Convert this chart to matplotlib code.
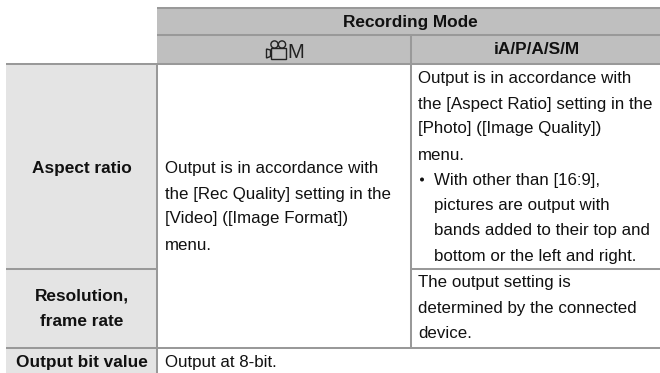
import matplotlib
matplotlib.use("Agg")
import matplotlib.pyplot as plt
from matplotlib.patches import Rectangle, Circle, Polygon

header_title = "Recording Mode"
mode_photo = "iA/P/A/S/M"
mode_video_letter = "M"
row_labels = ["Aspect ratio", "Resolution,\nframe rate", "Output bit value"]
video_lines = ["Output is in accordance with", "the [Rec Quality] setting in the",
               "[Video] ([Image Format])", "menu."]
photo_lines = ["Output is in accordance with", "the [Aspect Ratio] setting in the",
               "[Photo] ([Image Quality])", "menu."]
bullet_lines = ["With other than [16:9],", "pictures are output with",
                "bands added to their top and", "bottom or the left and right."]
device_lines = ["The output setting is", "determined by the connected", "device."]
bit_text = "Output at 8-bit."

W, H = 660, 373
plt.rcParams["font.family"] = ["Liberation Sans", "DejaVu Sans"]
fig = plt.figure(figsize=(W / 100, H / 100), dpi=100)
ax = fig.add_axes([0, 0, 1, 1])
ax.set_xlim(0, W)
ax.set_ylim(H, 0)
ax.axis("off")

HDR, SIDE, LINE, INK = "#bfbfbf", "#e4e4e4", "#999999", "#111111"
FS = 12.2
FSB = 12.4
LW = 1.45
ax.add_patch(Rectangle((157, 8), W - 157, 56, fc=HDR, ec="none"))
ax.add_patch(Rectangle((6, 64), 151, H - 64, fc=SIDE, ec="none"))

for (x0, x1, y) in [(157, W, 8), (157, W, 35), (6, W, 64), (6, 157, 269), (410.5, W, 269), (6, W, 347.5)]:
    ax.plot([x0, x1], [y, y], color=LINE, lw=LW, solid_capstyle="butt")
for (x, y0, y1) in [(157, 64, H), (410.5, 35, 347.5)]:
    ax.plot([x, x], [y0, y1], color=LINE, lw=LW, solid_capstyle="butt")


def t(x, y, s, **kw):
    kw.setdefault("color", INK)
    kw.setdefault("fontsize", FS)
    ax.text(x, y, s, va="baseline", **kw)


OFF = 5.5
t(410, 21 + OFF, header_title, ha="center", fontweight="bold", fontsize=FSB)
t(537, 49 + OFF, mode_photo, ha="center", fontweight="bold", fontsize=FSB)
t(82, 167 + OFF, row_labels[0], ha="center", fontweight="bold", fontsize=FSB)
l1, l2 = row_labels[1].split("\n")
t(82, 295 + OFF, l1, ha="center", fontweight="bold", fontsize=FSB)
t(82, 321 + OFF, l2, ha="center", fontweight="bold", fontsize=FSB)
t(82, 361 + OFF, row_labels[2], ha="center", fontweight="bold", fontsize=FSB)

for y, s in zip([167, 193, 218, 244], video_lines):
    t(165, y + OFF, s)
for y, s in zip([77, 103, 128, 154], photo_lines):
    t(418, y + OFF, s)
for y, s in zip([179, 204.5, 230, 255.5], bullet_lines):
    t(434, y + OFF, s)
ax.add_patch(Circle((422, 179.5), 2.0, fc=INK, ec="none"))
for y, s in zip([282, 307.5, 333], device_lines):
    t(418, y + OFF, s)
t(165, 361 + OFF, bit_text)

# movie-camera icon and M in the video mode header
icon = dict(fc="none", ec="#222222", lw=1.0)
ax.add_patch(Rectangle((270.5, 48), 15.5, 10.5, **icon))
ax.add_patch(Circle((274.5, 44.5), 3.6, **icon))
ax.add_patch(Circle((282, 44.5), 3.6, **icon))
ax.add_patch(Polygon([(270.5, 50), (266.5, 49), (266.5, 58), (270.5, 56.5)], closed=True, **icon))
t(287, 58, mode_video_letter, fontsize=14.5, color="#222222")

fig.savefig("out.png", dpi=100)
